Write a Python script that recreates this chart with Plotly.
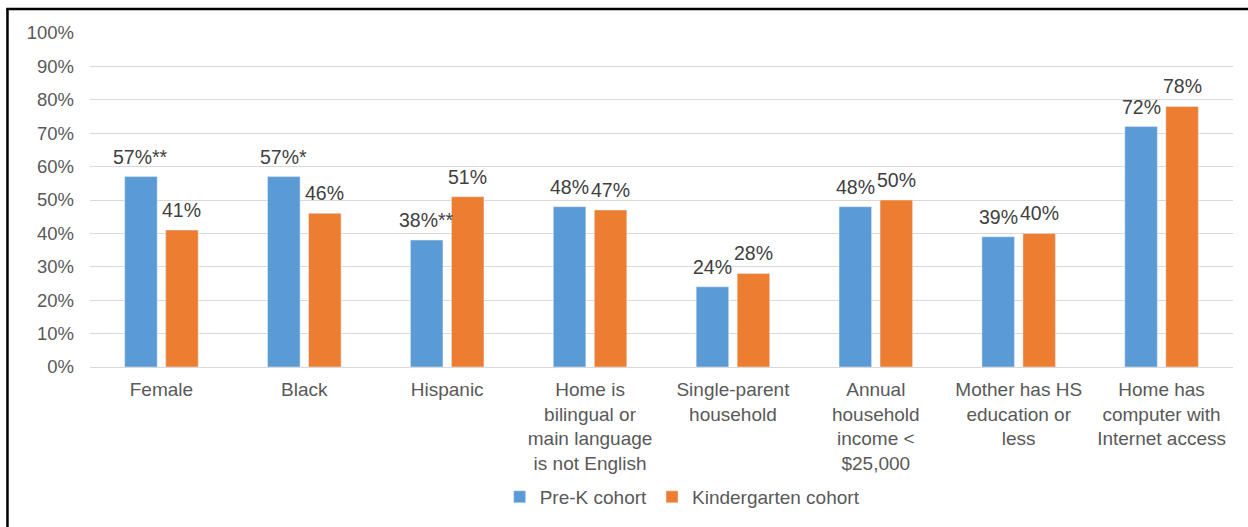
import plotly.graph_objects as go

categories = [
    "Female",
    "Black",
    "Hispanic",
    "Home is<br>bilingual or<br>main language<br>is not English",
    "Single-parent<br>household",
    "Annual<br>household<br>income <<br>$25,000",
    "Mother has HS<br>education or<br>less",
    "Home has<br>computer with<br>Internet access",
]
prek = [57, 57, 38, 48, 24, 48, 39, 72]
kinder = [41, 46, 51, 47, 28, 50, 40, 78]
prek_labels = ["57%**", "57%*", "38%**", "48%", "24%", "48%", "39%", "72%"]
kinder_labels = ["41%", "46%", "51%", "47%", "28%", "50%", "40%", "78%"]
yticks = list(range(0, 101, 10))

FONT = "Liberation Sans, Arial, sans-serif"
BLUE = "#5B9BD5"
ORANGE = "#ED7D31"

fig = go.Figure()
fig.add_trace(go.Bar(name="Pre-K cohort", x=categories, y=prek, marker_color=BLUE))
fig.add_trace(go.Bar(name="Kindergarten cohort", x=categories, y=kinder, marker_color=ORANGE))

annotations = []
for c, v, t in zip(categories, prek, prek_labels):
    annotations.append(dict(x=c, y=v, text=t, xshift=-20.5, yshift=7, yanchor="bottom",
                            showarrow=False, font=dict(family=FONT, size=19.5, color="#404040")))
for c, v, t in zip(categories, kinder, kinder_labels):
    annotations.append(dict(x=c, y=v, text=t, xshift=20.5, yshift=7, yanchor="bottom",
                            showarrow=False, font=dict(family=FONT, size=19.5, color="#404040")))

fig.update_layout(
    width=1248, height=527,
    margin=dict(l=90, r=15, t=33, b=159),
    paper_bgcolor="white", plot_bgcolor="white",
    barmode="group", bargap=0.426, bargroupgap=0.207,
    font=dict(family=FONT, size=18.5, color="#595959"),
    annotations=annotations,
    legend=dict(orientation="h", x=0.3584, xanchor="left", y=-0.385, yanchor="middle",
                font=dict(family=FONT, size=19, color="#595959"), itemwidth=30),
    shapes=[
        dict(type="line", xref="paper", yref="paper", x0=-0.0722, x1=-0.0722, y0=1.0716, y1=-0.48,
             line=dict(color="black", width=2.5)),
        dict(type="line", xref="paper", yref="paper", x0=-0.0733, x1=1.02, y0=1.0716, y1=1.0716,
             line=dict(color="black", width=2.5)),
    ],
)
fig.update_yaxes(range=[0, 100], tickvals=yticks, ticktext=[f"{v}%" for v in yticks],
                 showgrid=True, gridcolor="#d9d9d9", gridwidth=1, zeroline=True,
                 zerolinecolor="#d9d9d9", zerolinewidth=1, ticks="", ticklen=0,
                 ticklabelstandoff=15,
                 tickfont=dict(size=18.5, color="#595959"), automargin=False)
fig.update_xaxes(showline=False, ticks="", tickfont=dict(size=19, color="#595959"),
                 ticklabelstandoff=9, automargin=False, tickangle=0)

fig.write_html("out.html")
